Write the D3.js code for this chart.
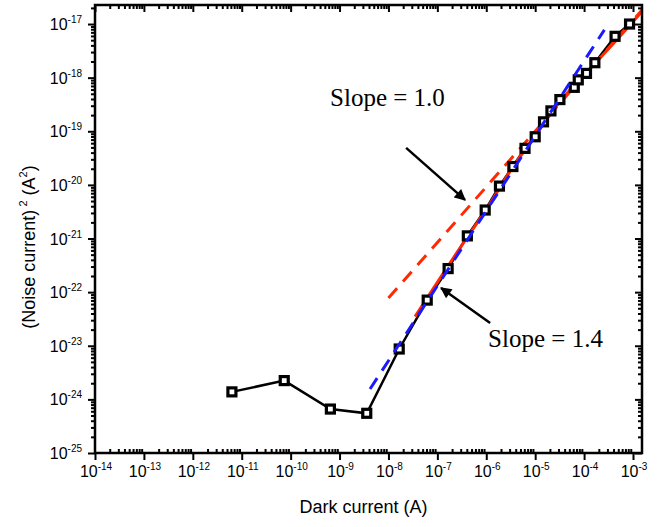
<!DOCTYPE html>
<html>
<head>
<meta charset="utf-8">
<script src="https://cdn.jsdelivr.net/npm/d3@7"></script>
<style>
  body { margin: 0; background: #fff; }
  text { font-family: "Liberation Sans", Arial, sans-serif; }
</style>
</head>
<body>
<svg id="plotSvg" width="672" height="527"></svg>
<script>
// measured data (A, A^2)
const darkCurrent = [6.3e-12, 7.4e-11, 6.5e-10, 3.6e-9, 1.66e-8, 6.2e-8, 1.66e-7, 4.1e-7, 9.5e-7,
    1.86e-6, 3.5e-6, 6.2e-6, 1.0e-5, 1.48e-5, 2.1e-5, 3.2e-5, 6.3e-5, 7.6e-5, 1.12e-4, 1.66e-4, 4.3e-4, 8.5e-4];
const noisePower = [1.38e-24, 2.24e-24, 6.6e-25, 5.5e-25, 8.7e-24, 7.1e-23, 2.75e-22, 1.12e-21, 3.4e-21,
    9.5e-21, 2.2e-20, 4.8e-20, 7.9e-20, 1.5e-19, 2.4e-19, 3.9e-19, 6.6e-19, 9.1e-19, 1.2e-18, 1.9e-18, 5.9e-18, 1.0e-17];

// fitted lines
const blueFitX = [4.2e-9, 2.6e-4];
const blueFitY = [1.56e-24, 7.8e-18];
const redDashX = [1.0e-8, 1.77e-3];
const redDashY = [7.8e-23, 2.12e-17];
const redCurveX = [3.5e-8, 3.2e-7, 1.0e-6, 3.2e-6, 1.0e-5, 3.2e-5, 1.0e-4, 3.2e-4, 1.77e-3];
const redCurveY = [3.5e-23, 7.6e-22, 3.5e-21, 1.9e-20, 8.3e-20, 3.6e-19, 1.12e-18, 3.5e-18, 2.0e-17];

// ticks
const xDecades = d3.range(-14, -2).map(e => Math.pow(10, e));
const yDecades = d3.range(-25, -16).map(e => Math.pow(10, e));

// annotations
const slopeLabels = ["Slope = 1.0", "Slope = 1.4"];
const slopeLabelX = [6.4e-10, 1.09e-6];
const slopeLabelY = [2.98e-19, 9.5e-24];
const arrowFromX = [2.3e-8, 1.2e-6];
const arrowFromY = [4.9e-20, 2.66e-23];
const arrowToX = [3.68e-7, 1.19e-7];
const arrowToY = [5.25e-21, 1.2e-22];

const margin = { top: 5, right: 30, bottom: 74, left: 95 },
    width = 642 - margin.left,
    height = 453 - margin.top;

const svg = d3.select("#plotSvg");
const g = svg.append("g").attr("transform", `translate(${margin.left},${margin.top})`);

const x = d3.scaleLog().domain([1e-14, Math.pow(10, -2.816)]).range([0, width]);
const y = d3.scaleLog().domain([1e-25, Math.pow(10, -16.645)]).range([height, 0]);

function minors(dec) {
    const out = [];
    dec.forEach(d => { for (let k = 2; k <= 9; k++) out.push(d * k); });
    return out;
}
const xMinor = minors(xDecades.concat([1e-3])).filter(v => v < x.domain()[1]);
const yMinor = minors(yDecades).filter(v => v < y.domain()[1]);

function styleAxis(sel) {
    sel.select(".domain").remove();
    sel.selectAll("line").attr("stroke", "black").attr("stroke-width", 2);
}

// bottom
g.append("g").attr("transform", `translate(0,${height})`)
    .call(d3.axisBottom(x).tickValues(xDecades).tickSize(7).tickFormat(""))
    .call(styleAxis);
g.append("g").attr("transform", `translate(0,${height})`)
    .call(d3.axisBottom(x).tickValues(xMinor).tickSize(-4).tickFormat(""))
    .call(styleAxis);
// top
g.append("g")
    .call(d3.axisTop(x).tickValues(xDecades).tickSize(-7).tickFormat(""))
    .call(styleAxis);
g.append("g")
    .call(d3.axisTop(x).tickValues(xMinor).tickSize(-4).tickFormat(""))
    .call(styleAxis);
// left
g.append("g")
    .call(d3.axisLeft(y).tickValues(yDecades).tickSize(7).tickFormat(""))
    .call(styleAxis);
g.append("g")
    .call(d3.axisLeft(y).tickValues(yMinor).tickSize(4).tickFormat(""))
    .call(styleAxis);
// right
g.append("g").attr("transform", `translate(${width},0)`)
    .call(d3.axisRight(y).tickValues(yDecades).tickSize(-7).tickFormat(""))
    .call(styleAxis);
g.append("g").attr("transform", `translate(${width},0)`)
    .call(d3.axisRight(y).tickValues(yMinor).tickSize(-4).tickFormat(""))
    .call(styleAxis);

// tick labels with superscripts
const xLab = g.append("g").selectAll("text").data(xDecades).join("text")
    .attr("x", d => x(d) + 1)
    .attr("y", height + 24)
    .attr("text-anchor", "middle")
    .style("font-size", "16px");
xLab.append("tspan").text("10");
xLab.append("tspan").attr("dy", -7).style("font-size", "10px").text(d => "-" + Math.round(-Math.log10(d)));

const yLab = g.append("g").selectAll("text").data(yDecades).join("text")
    .attr("x", -13)
    .attr("y", d => y(d) + 6)
    .attr("text-anchor", "end")
    .style("font-size", "16px");
yLab.append("tspan").text("10");
yLab.append("tspan").attr("dy", -7).style("font-size", "10px").text(d => "-" + Math.round(-Math.log10(d)));

// axis titles
svg.append("text")
    .attr("x", margin.left + width / 2 - 5)
    .attr("y", 513)
    .attr("text-anchor", "middle")
    .style("font-size", "18px")
    .text("Dark current (A)");

const yt = svg.append("text")
    .attr("transform", `translate(35,${margin.top + height / 2 + 18}) rotate(-90)`)
    .attr("text-anchor", "middle")
    .style("font-size", "18px");
yt.append("tspan").text("(Noise current)");
yt.append("tspan").attr("dy", -8).style("font-size", "11px").text(" 2");
yt.append("tspan").attr("dy", 8).text(" (A");
yt.append("tspan").attr("dy", -8).style("font-size", "11px").text("2");
yt.append("tspan").attr("dy", 8).text(")");

// clip
svg.append("defs").append("clipPath").attr("id", "clip")
    .append("rect").attr("width", width).attr("height", height);
svg.select("defs").append("marker")
    .attr("id", "arrow").attr("viewBox", "0 0 10 10")
    .attr("refX", 9).attr("refY", 5)
    .attr("markerWidth", 5).attr("markerHeight", 4.5)
    .attr("markerUnits", "strokeWidth")
    .attr("orient", "auto")
    .append("path").attr("d", "M0,0 L10,5 L0,10 Z").attr("fill", "black");

const plot = g.append("g").attr("clip-path", "url(#clip)");
const line = d3.line().x(d => x(d[0])).y(d => y(d[1]));

// data line
const pts = darkCurrent.map((v, i) => [v, noisePower[i]]);
plot.append("path")
    .datum(pts)
    .attr("d", line)
    .attr("fill", "none")
    .attr("stroke", "black")
    .attr("stroke-width", 2.5);

// red fits
plot.append("path")
    .datum(redCurveX.map((v, i) => [v, redCurveY[i]]))
    .attr("d", line.curve(d3.curveMonotoneX))
    .attr("fill", "none")
    .attr("stroke", "#ff2a00")
    .attr("stroke-width", 3);
line.curve(d3.curveLinear);
plot.append("path")
    .datum(redDashX.map((v, i) => [v, redDashY[i]]))
    .attr("d", line)
    .attr("fill", "none")
    .attr("stroke", "#ff2a00")
    .attr("stroke-width", 3)
    .attr("stroke-dasharray", "13,9");

// markers
plot.selectAll("rect.pt").data(pts).join("rect")
    .attr("class", "pt")
    .attr("x", d => x(d[0]) - 4)
    .attr("y", d => y(d[1]) - 4)
    .attr("width", 8)
    .attr("height", 8)
    .attr("fill", "white")
    .attr("stroke", "black")
    .attr("stroke-width", 3.2);

// blue fit
plot.append("path")
    .datum(blueFitX.map((v, i) => [v, blueFitY[i]]))
    .attr("d", line)
    .attr("fill", "none")
    .attr("stroke", "#1a1aff")
    .attr("stroke-width", 3)
    .attr("stroke-dasharray", "13,9");

// frame
g.append("rect")
    .attr("width", width)
    .attr("height", height)
    .attr("fill", "none")
    .attr("stroke", "black")
    .attr("stroke-width", 2.5);

// annotations
g.selectAll("line.arrow").data(arrowFromX).join("line")
    .attr("class", "arrow")
    .attr("x1", (d, i) => x(d))
    .attr("y1", (d, i) => y(arrowFromY[i]))
    .attr("x2", (d, i) => x(arrowToX[i]))
    .attr("y2", (d, i) => y(arrowToY[i]))
    .attr("stroke", "black")
    .attr("stroke-width", 2.5)
    .attr("marker-end", "url(#arrow)");

g.selectAll("text.slope").data(slopeLabels).join("text")
    .attr("class", "slope")
    .attr("x", (d, i) => x(slopeLabelX[i]))
    .attr("y", (d, i) => y(slopeLabelY[i]))
    .style("font-family", "'Liberation Serif', 'Times New Roman', serif")
    .style("font-size", "25px")
    .text(d => d);
</script>
</body>
</html>
